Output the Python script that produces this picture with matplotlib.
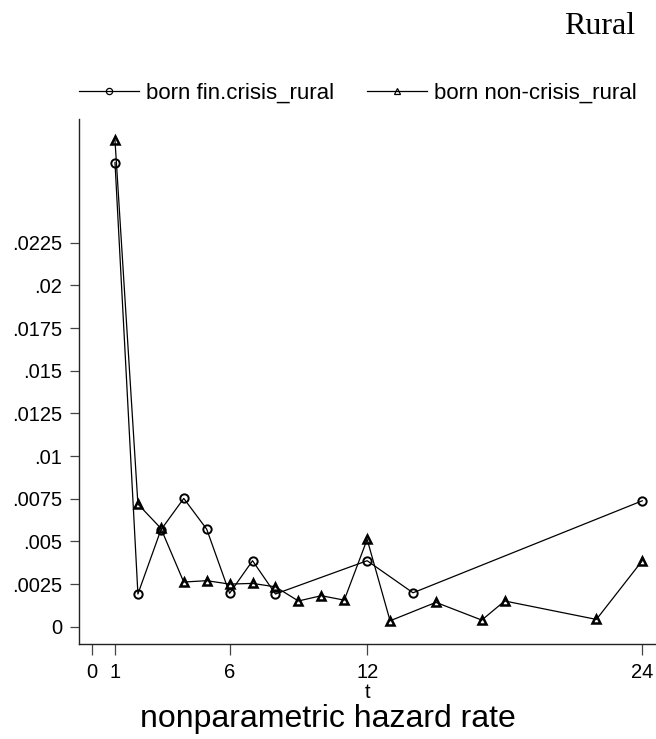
import matplotlib
matplotlib.use("Agg")
import matplotlib.pyplot as plt
from matplotlib.lines import Line2D
from matplotlib.ticker import FixedLocator, FixedFormatter

# ---- data ----
t_crisis = [1, 2, 3, 4, 5, 6, 7, 8, 12, 14, 24]
h_crisis = [0.0272, 0.00192, 0.00567, 0.00752, 0.00572, 0.00196, 0.00387,
            0.00192, 0.00387, 0.00199, 0.00738]

t_noncrisis = [1, 2, 3, 4, 5, 6, 7, 8, 9, 10, 11, 12, 13, 15, 17, 18, 22, 24]
h_noncrisis = [0.0285, 0.00719, 0.00577, 0.00262, 0.0027, 0.0025, 0.00254,
               0.00234, 0.00151, 0.00182, 0.00156, 0.00512, 0.00035, 0.00143,
               0.00039, 0.00151, 0.00043, 0.00387]

xticks = [0, 1, 6, 12, 24]
yticks = [0, 0.0025, 0.005, 0.0075, 0.01, 0.0125, 0.015, 0.0175, 0.02, 0.0225]
yticklabels = ["0", ".0025", ".005", ".0075", ".01", ".0125", ".015", ".0175", ".02", ".0225"]

label_crisis = "born fin.crisis_rural"
label_noncrisis = "born non-crisis_rural"
title = "Rural"
xlabel = "t"
note = "nonparametric hazard rate"

# ---- figure ----
W, H = 656, 739
fig = plt.figure(figsize=(W / 100, H / 100), dpi=100)
plt.rcParams['font.family'] = ['Liberation Sans', 'DejaVu Sans']

ax = fig.add_axes([79 / W, 1 - 644 / H, 1 - 79 / W, (644 - 119) / H])

ax.plot(t_crisis, h_crisis, color='black', lw=0.9, marker='o',
        markersize=6, markerfacecolor='none', markeredgecolor='black',
        markeredgewidth=1.4)
ax.plot(t_noncrisis, h_noncrisis, color='black', lw=0.9, marker='^',
        markersize=6, markerfacecolor='none', markeredgecolor='black',
        markeredgewidth=1.8)

ax.set_xlim(-0.57, 24.6)
ax.set_ylim(-0.00101, 0.02975)

ax.xaxis.set_major_locator(FixedLocator(xticks))
ax.xaxis.set_major_formatter(FixedFormatter([str(v) for v in xticks]))
ax.yaxis.set_major_locator(FixedLocator(yticks))
ax.yaxis.set_major_formatter(FixedFormatter(yticklabels))

for s in ['top', 'right']:
    ax.spines[s].set_visible(False)
for s in ['left', 'bottom']:
    ax.spines[s].set_color('#222222')
    ax.spines[s].set_linewidth(1.0)

ax.tick_params(axis='y', length=6.5, width=0.9, color='#444444', pad=5.5,
               labelsize=14.5)
ax.tick_params(axis='x', length=8, width=0.9, color='#444444', pad=5.5,
               labelsize=14.5)
ax.set_xlabel(xlabel, fontsize=14.5, labelpad=1)

fig.text(600 / W, 1 - 34 / H, title, family=['Liberation Serif', 'DejaVu Serif'],
         fontsize=23, ha='center', va='baseline')

h1 = Line2D([], [], color='black', lw=0.9, marker='o', markersize=4.5,
            markerfacecolor='none', markeredgecolor='black', markeredgewidth=0.9)
h2 = Line2D([], [], color='black', lw=0.9, marker='^', markersize=4.5,
            markerfacecolor='none', markeredgecolor='black', markeredgewidth=0.9)
fig.legend(handles=[h1, h2], labels=[label_crisis, label_noncrisis],
           loc='center left', bbox_to_anchor=(79 / W, 1 - 93 / H), ncol=2,
           frameon=False, fontsize=16, handlelength=2.7, handletextpad=0.3,
           columnspacing=1.5, borderpad=0, borderaxespad=0)

fig.text(0.5, 1 - 727 / H, note, fontsize=23, ha='center', va='baseline')

fig.savefig("out.png", dpi=100)
